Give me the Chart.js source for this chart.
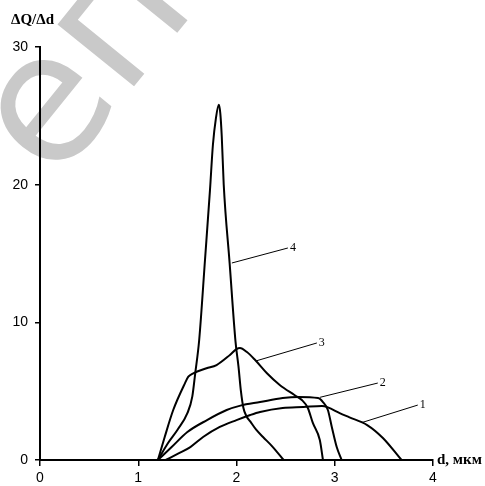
<!DOCTYPE html>
<html>
<head>
<meta charset="utf-8">
<script src="https://cdn.jsdelivr.net/npm/chart.js@4.4.1/dist/chart.umd.min.js"></script>
<style>
  html, body { margin: 0; padding: 0; background: #fff; }
  #wrap { position: relative; width: 485px; height: 486px; }
</style>
</head>
<body>
<div id="wrap"><canvas id="chart"></canvas></div>
<script>
// d, мкм / ΔQ/Δd для кривых 1-4
const d1 = [1.28, 1.41, 1.53, 1.66, 1.83, 2.00, 2.14, 2.24, 2.47, 2.68, 2.87, 2.93, 3.05, 3.15, 3.33, 3.49, 3.68];
const q1 = [0, 0.48, 0.94, 1.67, 2.4, 2.9, 3.27, 3.49, 3.78, 3.85, 3.92, 3.82, 3.41, 3.1, 2.54, 1.6, 0];

const d2 = [1.20, 1.34, 1.50, 1.70, 1.90, 2.04, 2.24, 2.47, 2.63, 2.83, 2.88, 2.93, 2.97, 3.02, 3.07];
const q2 = [0, 0.94, 2.03, 2.9, 3.63, 3.95, 4.21, 4.5, 4.58, 4.5, 4.21, 3.63, 2.4, 0.94, 0];

const d3 = [1.20, 1.27, 1.356, 1.475, 1.51, 1.56, 1.695, 1.797, 1.933, 2.00, 2.035, 2.106, 2.19, 2.31, 2.44, 2.59, 2.665, 2.726, 2.777, 2.848, 2.88];
const q3 = [0, 1.69, 3.63, 5.57, 6.05, 6.3, 6.66, 6.9, 7.63, 8.05, 8.13, 7.84, 7.26, 6.3, 5.45, 4.72, 4.36, 3.78, 2.69, 1.45, 0];

const d4 = [1.20, 1.30, 1.40, 1.50, 1.55, 1.58, 1.62, 1.68, 1.73, 1.76, 1.79, 1.82, 1.835, 1.85, 1.87, 1.93, 1.99, 2.02, 2.045, 2.07, 2.10, 2.14, 2.20, 2.27, 2.37, 2.48];
const q4 = [0, 1.2, 2.2, 3.4, 4.6, 6.3, 8.7, 14.6, 19.6, 22.9, 24.8, 25.8, 25.2, 23.5, 20.0, 14.3, 8.6, 6.8, 5.0, 3.8, 3.2, 2.8, 2.2, 1.67, 0.94, 0];

const xTicks = [0, 1, 2, 3, 4];
const yTicks = [0, 10, 20, 30];

// номера кривых и выноски (в координатах данных)
const curveNames = ['1', '2', '3', '4'];
const leaderFrom = [[3.276, 2.72], [2.848, 4.55], [2.20, 7.2], [1.953, 14.31]];
const leaderTo = [[3.845, 3.99], [3.438, 5.59], [2.818, 8.5], [2.523, 15.4]];

function pts(xs, ys) {
  return xs.map((x, i) => ({x: x, y: ys[i]}));
}

function curve(xs, ys) {
  return {
    data: pts(xs, ys),
    borderColor: '#000',
    borderWidth: 2,
    pointRadius: 0,
    fill: false,
    cubicInterpolationMode: 'monotone',
  };
}

const watermark = {
  id: 'watermark',
  beforeDraw(chart) {
    const ctx = chart.ctx;
    ctx.save();
    ctx.translate(54, 185);
    ctx.rotate(-51 * Math.PI / 180);
    ctx.fillStyle = '#c9c9c9';
    ctx.font = '180px "DejaVu Sans"';
    ctx.textBaseline = 'alphabetic';
    ctx.fillText('еп', 0, 0);
    ctx.restore();
  },
};

const labels = {
  id: 'labels',
  afterDraw(chart) {
    const ctx = chart.ctx;
    const xs = chart.scales.x;
    const ys = chart.scales.y;
    ctx.save();
    ctx.strokeStyle = '#000';
    ctx.lineWidth = 1;
    ctx.fillStyle = '#000';
    ctx.font = '12px "Liberation Serif"';
    ctx.textBaseline = 'middle';
    ctx.textAlign = 'left';
    curveNames.forEach((name, i) => {
      const a = leaderFrom[i];
      const b = leaderTo[i];
      ctx.beginPath();
      ctx.moveTo(xs.getPixelForValue(a[0]), ys.getPixelForValue(a[1]));
      ctx.lineTo(xs.getPixelForValue(b[0]), ys.getPixelForValue(b[1]));
      ctx.stroke();
      ctx.fillText(name, xs.getPixelForValue(b[0]) + 2, ys.getPixelForValue(b[1]));
    });

    // подписи осей
    ctx.font = 'bold 15px "Liberation Serif"';
    ctx.fillText('ΔQ/Δd', 11, 20);
    ctx.fillText('d, мкм', 437, ys.getPixelForValue(0));
    ctx.restore();
  },
};

new Chart(document.getElementById('chart'), {
  type: 'line',
  data: {
    datasets: [curve(d1, q1), curve(d2, q2), curve(d3, q3), curve(d4, q4)],
  },
  options: {
    responsive: true,
    maintainAspectRatio: false,
    animation: false,
    layout: {padding: {top: 47, right: 52, left: 0, bottom: 0}},
    plugins: {legend: {display: false}, tooltip: {enabled: false}},
    scales: {
      x: {
        type: 'linear',
        min: 0,
        max: 4,
        afterFit: (s) => { s.height = 26; },
        afterBuildTicks: (s) => { s.ticks = xTicks.map((v) => ({value: v})); },
        border: {color: '#000', width: 2},
        grid: {drawOnChartArea: false, tickLength: 6, color: '#000', lineWidth: 1.5},
        ticks: {color: '#000', padding: 4, maxRotation: 0, font: {family: 'Liberation Sans', size: 14}},
      },
      y: {
        type: 'linear',
        min: 0,
        max: 30,
        afterFit: (s) => { s.width = 40; },
        afterBuildTicks: (s) => { s.ticks = yTicks.map((v) => ({value: v})); },
        border: {color: '#000', width: 2},
        grid: {drawOnChartArea: false, tickLength: 5, color: '#000', lineWidth: 1.5},
        ticks: {color: '#000', padding: 7, font: {family: 'Liberation Sans', size: 14}},
      },
    },
  },
  plugins: [watermark, labels],
});
</script>
</body>
</html>
